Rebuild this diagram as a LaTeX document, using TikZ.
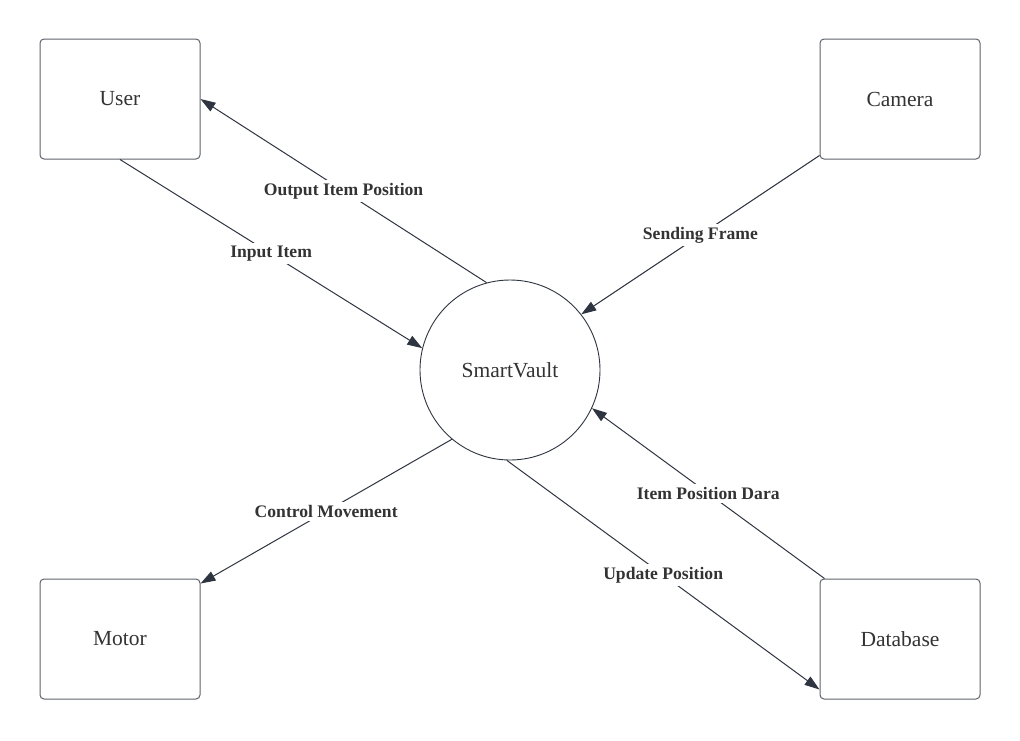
\documentclass[tikz,border=0pt]{standalone}
\usepackage{fontspec}
\setmainfont{Liberation Serif}
\usetikzlibrary{arrows.meta}
\definecolor{boxline}{HTML}{5F636B}
\definecolor{arrowline}{HTML}{2F3540}
\definecolor{txt}{HTML}{333333}
\tikzset{
  entity/.style={draw=boxline, line width=1pt, rounded corners=4pt, minimum width=160pt, minimum height=120pt, inner sep=0pt, font=\fontsize{21.5}{24}\selectfont, text=txt},
  proc/.style={draw=arrowline, line width=0.9pt, circle, minimum size=180pt, inner sep=0pt, font=\fontsize{21.5}{24}\selectfont, text=txt},
  flow/.style={draw=arrowline, line width=1pt, -{Triangle[length=15pt,width=10pt]}},
  flowlabel/.style={fill=white, inner sep=3pt, font=\bfseries\fontsize{17.6}{20}\selectfont, text=txt, midway}
}
\begin{document}
\begin{tikzpicture}[x=1pt,y=-1pt]
\useasboundingbox (0,0) rectangle (1020,740);
\fill[white] (0,0) rectangle (1020,740);
\node[entity] (user) at (120,99) {User};
\node[entity] (camera) at (900,99) {Camera};
\node[entity] (motor) at (120,639) {Motor};
\node[entity] (db) at (900,639) {Database};
\node[proc] (sv) at (510,370) {SmartVault};

\draw[flow] (user.south) -- (sv.166) node[flowlabel] {Input Item};
\draw[flow] (sv.105) -- (user.east) node[flowlabel] {Output Item Position};
\draw[flow] ([yshift=4pt]camera.south west) -- (sv.38) node[flowlabel] {Sending Frame};
\draw[flow] (sv.230) -- ([yshift=-5pt]motor.north east) node[flowlabel] {Control Movement};
\draw[flow] (sv.268) -- ([yshift=10pt]db.south west) node[flowlabel] {Update Position};
\draw[flow] ([xshift=5pt]db.north west) -- (sv.335) node[flowlabel] {Item Position Dara};
\end{tikzpicture}
\end{document}
